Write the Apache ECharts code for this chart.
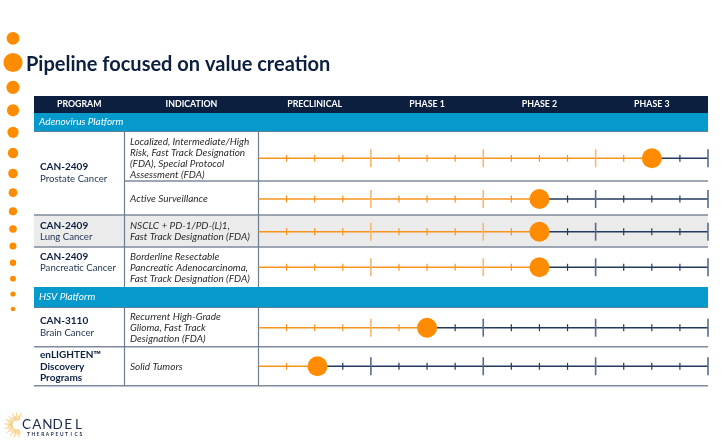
<!DOCTYPE html>
<html>
<head>
<meta charset="utf-8">
<style>
  html, body { margin: 0; padding: 0; background: #ffffff; }
  #chart { width: 728px; height: 447px; }
</style>
<script src="https://cdn.jsdelivr.net/npm/echarts@6/dist/echarts.min.js"></script>
</head>
<body>
<div id="chart"></div>
<script>
// ---------------- DATA ----------------
const title = 'Pipeline focused on value creation';
const columnHeaders = ['PROGRAM', 'INDICATION'];
const stages = ['PRECLINICAL', 'PHASE 1', 'PHASE 2', 'PHASE 3'];
const platforms = ['Adenovirus Platform', 'HSV Platform'];
const programNames = ['CAN-2409', 'CAN-2409', 'CAN-2409', 'CAN-3110', 'enLIGHTEN™\nDiscovery\nPrograms'];
const programTargets = ['Prostate Cancer', 'Lung Cancer', 'Pancreatic Cancer', 'Brain Cancer', ''];
const indications = [
  'Localized, Intermediate/High\nRisk, Fast Track Designation\n(FDA), Special Protocol\nAssessment (FDA)',
  'Active Surveillance',
  'NSCLC + PD-1/PD-(L)1,\nFast Track Designation (FDA)',
  'Borderline Resectable\nPancreatic Adenocarcinoma,\nFast Track Designation (FDA)',
  'Recurrent High-Grade\nGlioma, Fast Track\nDesignation (FDA)',
  'Solid Tumors'
];
// progress along the pipeline, in quarter-phase steps (4 steps per phase, 16 total)
const progress = [14, 10, 10, 10, 6, 2.1];
const stepsPerStage = 4;
const logoName = 'CANDEL';
const logoSub = 'THERAPEUTICS';

// ---------------- LAYOUT (pixels) ----------------
const T = { left: 34, right: 708, col1: 124.5, col2: 258.5, top: 96, bottom: 386 };
const headerBand = [96, 113];
const platformBands = [[113, 131.5], [287, 307.5]];
const rowCenters = [158.3, 199, 231.7, 267.3, 327.7, 366.3];      // timeline rows
const programCenters = [173, 231.2, 262.5, 326.8, 366.7];
const grayRow = [215, 247];
const separators = [[181, T.col1], [215, T.left], [247, T.left], [346.7, T.left], [385.7, T.left]];
const leftDots = [[38.3,6.4],[62.5,9.6],[87.3,6.6],[110.3,6.1],[132.3,5.6],[153,5.2],[173.5,4.8],[192.7,4.4],[211.3,4.1],[229,3.8],[246,3.5],[262.7,3.2],[278.7,2.9],[294,2.6],[309,2.3]];

const NAVY = '#0c1f3f';
const BLUE = '#0599cc';
const ORANGE = '#f7941d';
const ORANGE_BIG = '#f9b772';
const LINE_NAVY = '#223a5c';
const NAVY_BIG = '#586c89';
const DOT = '#ff8c00';
const SEP = '#7f8a9c';
const FONT = 'Lato';

const chart = echarts.init(document.getElementById('chart'), null, { renderer: 'canvas' });
const maxStep = stages.length * stepsPerStage;

// ---------------- GRAPHIC TABLE ----------------
const g = [];
leftDots.forEach(([y, r]) => g.push({ type: 'circle', shape: { cx: 13, cy: y, r }, style: { fill: DOT } }));
g.push({ type: 'text', x: 26, y: 65, style: { text: title, font: 'bold 20px ' + FONT, fill: NAVY, textVerticalAlign: 'middle' } });
g.push({ type: 'rect', shape: { x: T.left, y: grayRow[0], width: T.right - T.left, height: grayRow[1] - grayRow[0] }, style: { fill: '#ebebeb' } });
g.push({ type: 'rect', shape: { x: T.left, y: headerBand[0], width: T.right - T.left, height: headerBand[1] - headerBand[0] }, style: { fill: NAVY } });
const hy = (headerBand[0] + headerBand[1]) / 2;
[[columnHeaders[0], (T.left + T.col1) / 2], [columnHeaders[1], (T.col1 + T.col2) / 2]].forEach(([t, x]) =>
  g.push({ type: 'text', x, y: hy, style: { text: t, font: 'bold 8.8px ' + FONT, fill: '#ffffff', textAlign: 'center', textVerticalAlign: 'middle' } }));
const stageW = (T.right - T.col2) / stages.length;
stages.forEach((s, i) => g.push({ type: 'text', x: T.col2 + stageW * (i + 0.5), y: hy,
  style: { text: s, font: 'bold 8.8px ' + FONT, fill: '#ffffff', textAlign: 'center', textVerticalAlign: 'middle' } }));
platformBands.forEach(([a, b], i) => {
  g.push({ type: 'rect', shape: { x: T.left, y: a, width: T.right - T.left, height: b - a }, style: { fill: BLUE } });
  g.push({ type: 'line', shape: { x1: T.left, y1: b, x2: T.right, y2: b }, style: { stroke: '#5f7f9c', lineWidth: 1 } });
  g.push({ type: 'text', x: 39, y: (a + b) / 2, style: { text: platforms[i], font: 'italic 10px ' + FONT, fill: '#ffffff', textVerticalAlign: 'middle' } });
});
separators.forEach(([y, x0]) => g.push({ type: 'line', shape: { x1: x0, y1: y, x2: T.right, y2: y }, style: { stroke: SEP, lineWidth: 1.5 } }));
[[platformBands[0][1], platformBands[1][0]], [platformBands[1][1], T.bottom]].forEach(([a, b]) => {
  [T.col1, T.col2].forEach(x => g.push({ type: 'line', shape: { x1: x, y1: a, x2: x, y2: b }, style: { stroke: '#6f7b8f', lineWidth: 1.2 } }));
});
programNames.forEach((name, i) => {
  const sub = programTargets[i];
  const text = name.split('\n').map(l => '{b|' + l + '}').join('\n') + (sub ? '\n{r|' + sub + '}' : '');
  g.push({ type: 'text', x: 40, y: programCenters[i], style: { text, textVerticalAlign: 'middle',
    rich: { b: { font: 'bold 10px ' + FONT, fill: NAVY, lineHeight: 11.5 }, r: { font: '9.6px ' + FONT, fill: '#1f3350', lineHeight: 11.5 } } } });
});
indications.forEach((t, i) => g.push({ type: 'text', x: 130, y: rowCenters[i], style: { text: t, font: 'italic 10px ' + FONT,
  fill: '#2b2b2b', lineHeight: 11, textVerticalAlign: 'middle' } }));
// logo
const lc = [17, 425];
for (let k = 0; k < 22; k++) {
  const a = (70 + k * 10.5) * Math.PI / 180;
  const r1 = 4.5, r2 = (k % 2 === 0) ? 12.5 : 9.5;
  g.push({ type: 'line', shape: { x1: lc[0] + r1 * Math.cos(a), y1: lc[1] - r1 * Math.sin(a), x2: lc[0] + r2 * Math.cos(a), y2: lc[1] - r2 * Math.sin(a) },
    style: { stroke: '#f6c46a', lineWidth: 0.9 } });
}
logoName.split('').forEach((ch, i) => g.push({ type: 'text', x: 26.5 + i * 10.4, y: 425,
  style: { text: ch, font: '13.5px ' + FONT, fill: '#1b2a4a', textAlign: 'center', textVerticalAlign: 'middle' } }));
logoSub.split('').forEach((ch, i) => g.push({ type: 'text', x: 28.5 + i * 4.75, y: 434.8,
  style: { text: ch, font: 'bold 4.8px ' + FONT, fill: '#1b2a4a', textAlign: 'center', textVerticalAlign: 'middle' } }));

// ---------------- TIMELINE SERIES ----------------
function renderTrack(params, api) {
  const v = api.value(0), y = api.value(1);
  const p0 = api.coord([0, y]), pv = api.coord([v, y]), pe = api.coord([maxStep, y]);
  const ch = [
    { type: 'line', shape: { x1: p0[0], y1: p0[1], x2: pv[0], y2: pv[1] }, style: { stroke: ORANGE, lineWidth: 1.5 } },
    { type: 'line', shape: { x1: pv[0], y1: pv[1], x2: pe[0], y2: pe[1] }, style: { stroke: LINE_NAVY, lineWidth: 1.5 } }
  ];
  for (let k = 1; k <= maxStep; k++) {
    const p = api.coord([k, y]);
    const big = k % stepsPerStage === 0;
    const done = k < v;
    const half = big ? 9 : 3.5;
    ch.push({ type: 'line', shape: { x1: p[0], y1: p[1] - half, x2: p[0], y2: p[1] + half },
      style: { stroke: done ? (big ? ORANGE_BIG : ORANGE) : (big ? NAVY_BIG : LINE_NAVY), lineWidth: big ? 1.6 : 1.2 } });
  }
  return { type: 'group', children: ch };
}

const trackData = progress.map((v, i) => [v, rowCenters[i] - T.top]);

chart.setOption({
  animation: false,
  grid: { left: T.col2, right: 728 - T.right, top: T.top, bottom: 447 - T.bottom },
  xAxis: { type: 'value', min: 0, max: maxStep, show: false },
  yAxis: { type: 'value', min: 0, max: T.bottom - T.top, inverse: true, show: false },
  graphic: g,
  series: [
    { type: 'custom', renderItem: renderTrack, data: trackData, z: 5, silent: true },
    { type: 'scatter', data: trackData, symbolSize: 20, itemStyle: { color: DOT, opacity: 1 }, z: 10, silent: true }
  ]
});
</script>
</body>
</html>
